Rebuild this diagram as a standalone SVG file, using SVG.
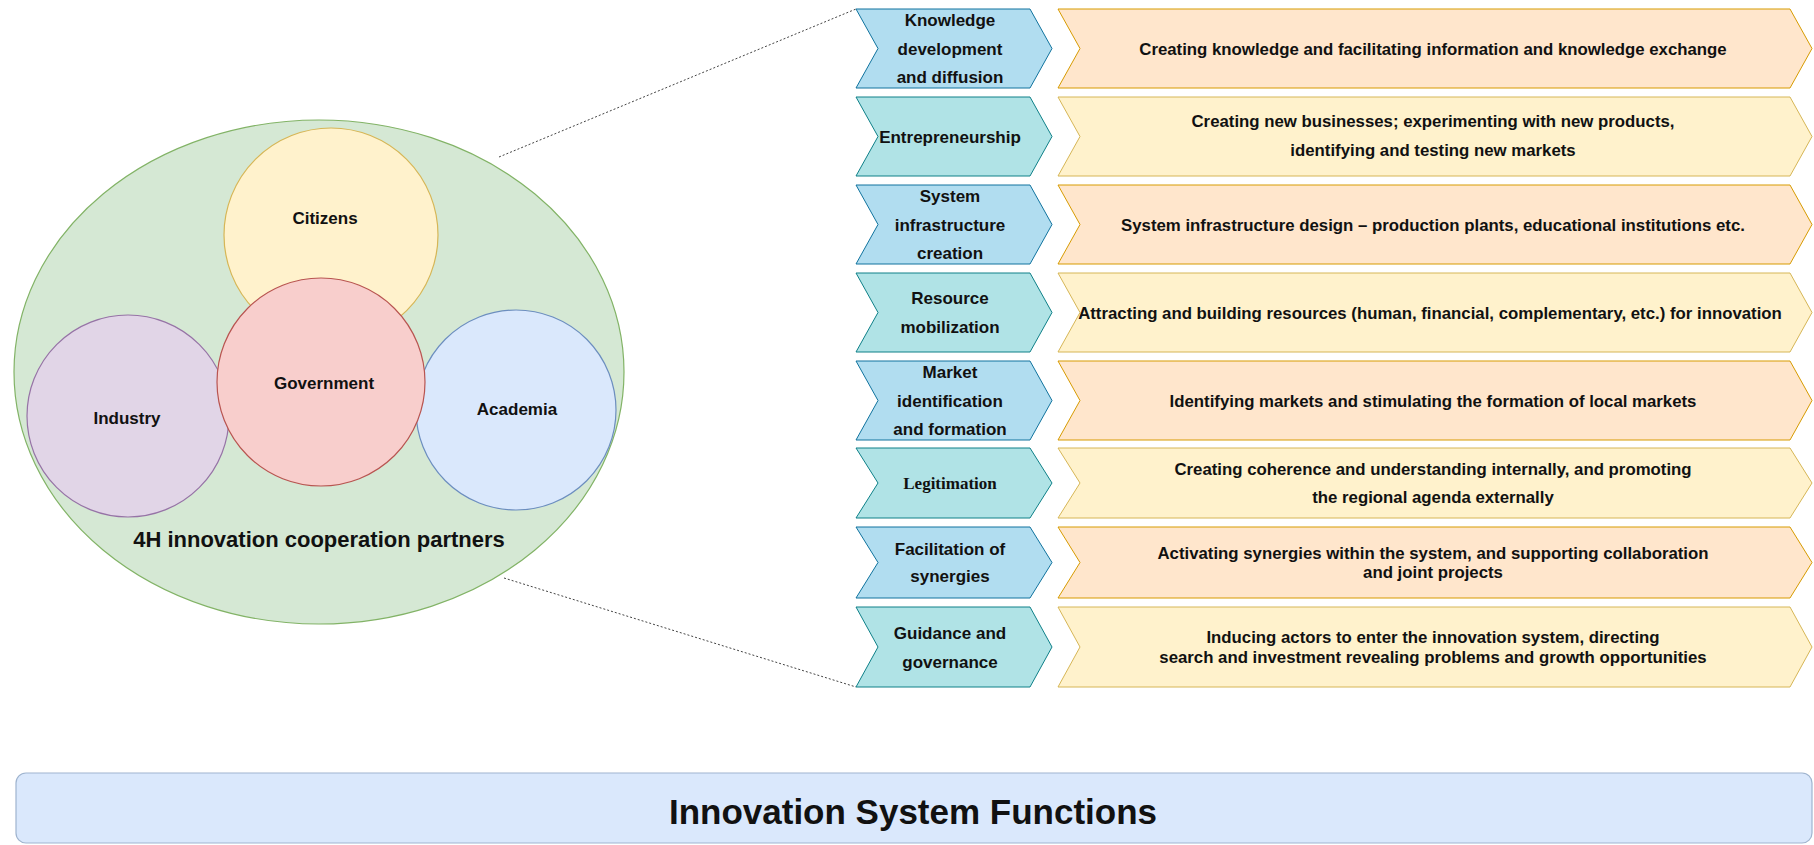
<svg xmlns="http://www.w3.org/2000/svg" width="1814" height="845" viewBox="0 0 1814 845">
<style>
text{font-family:"Liberation Sans",Arial,sans-serif;font-weight:bold;fill:#111;text-anchor:middle}
.lbl{font-size:17px}
.rt{font-size:16.8px}
.serif{font-family:"Liberation Serif","Times New Roman",serif}
.blue{fill:#b1ddf0;stroke:#10739e;stroke-width:1}
.teal{fill:#b0e3e6;stroke:#0e8088;stroke-width:1}
.orange{fill:#ffe6cc;stroke:#d79b00;stroke-width:1}
.yellow{fill:#fff2cc;stroke:#d6b656;stroke-width:1}
.dot{fill:none;stroke:#444;stroke-width:1;stroke-dasharray:2 2}
</style>
<rect width="1814" height="845" fill="#ffffff"/>

<g id="partners">
<ellipse cx="319" cy="372" rx="305" ry="252" fill="#d5e8d4" stroke="#82b366" stroke-width="1.2"/>
<text x="319" y="547" style="font-size:22px">4H innovation cooperation partners</text>
</g>
<g id="citizens">
<circle cx="331" cy="235" r="107" fill="#fff2cc" stroke="#d6b656" stroke-width="1.2"/>
<text x="325" y="224" class="lbl">Citizens</text>
</g>
<g id="industry">
<circle cx="128" cy="416" r="101" fill="#e1d5e7" stroke="#9673a6" stroke-width="1.2"/>
<text x="127" y="424" class="lbl">Industry</text>
</g>
<g id="academia">
<circle cx="516" cy="410" r="100" fill="#dae8fc" stroke="#6c8ebf" stroke-width="1.2"/>
<text x="517" y="415" class="lbl">Academia</text>
</g>
<g id="government">
<circle cx="321" cy="382" r="104" fill="#f8cecc" stroke="#b85450" stroke-width="1.2"/>
<text x="324" y="389" class="lbl">Government</text>
</g>

<g id="connectors">
<line x1="499" y1="157" x2="856" y2="9" class="dot"/>
<line x1="504" y1="578" x2="856" y2="687" class="dot"/>
</g>

<g id="f1">
<polygon class="blue" points="856,9 1030,9 1052,48.5 1030,88 856,88 878,48.5"/>
<text x="950" y="26" class="lbl">Knowledge</text>
<text x="950" y="54.5" class="lbl">development</text>
<text x="950" y="83" class="lbl">and diffusion</text>
<polygon class="orange" points="1058,9 1790,9 1812,48.5 1790,88 1058,88 1080,48.5"/>
<text x="1433" y="54.5" class="rt">Creating knowledge and facilitating information and knowledge exchange</text>
</g>
<g id="f2">
<polygon class="teal" points="856,97 1030,97 1052,136.5 1030,176 856,176 878,136.5"/>
<text x="950" y="142.5" class="lbl">Entrepreneurship</text>
<polygon class="yellow" points="1058,97 1790,97 1812,136.5 1790,176 1058,176 1080,136.5"/>
<text x="1433" y="127" class="rt">Creating new businesses; experimenting with new products,</text>
<text x="1433" y="156" class="rt">identifying and testing new markets</text>
</g>
<g id="f3">
<polygon class="blue" points="856,185 1030,185 1052,224.5 1030,264 856,264 878,224.5"/>
<text x="950" y="202" class="lbl">System</text>
<text x="950" y="230.5" class="lbl">infrastructure</text>
<text x="950" y="259" class="lbl">creation</text>
<polygon class="orange" points="1058,185 1790,185 1812,224.5 1790,264 1058,264 1080,224.5"/>
<text x="1433" y="230.5" class="rt">System infrastructure design – production plants, educational institutions etc.</text>
</g>
<g id="f4">
<polygon class="teal" points="856,273 1030,273 1052,312.5 1030,352 856,352 878,312.5"/>
<text x="950" y="304" class="lbl">Resource</text>
<text x="950" y="333" class="lbl">mobilization</text>
<polygon class="yellow" points="1058,273 1790,273 1812,312.5 1790,352 1058,352 1080,312.5"/>
<text x="1430" y="318.5" class="rt">Attracting and building resources (human, financial, complementary, etc.) for innovation</text>
</g>
<g id="f5">
<polygon class="blue" points="856,361 1030,361 1052,400.5 1030,440 856,440 878,400.5"/>
<text x="950" y="378" class="lbl">Market</text>
<text x="950" y="406.5" class="lbl">identification</text>
<text x="950" y="435" class="lbl">and formation</text>
<polygon class="orange" points="1058,361 1790,361 1812,400.5 1790,440 1058,440 1080,400.5"/>
<text x="1433" y="406.5" class="rt">Identifying markets and stimulating the formation of local markets</text>
</g>
<g id="f6">
<polygon class="teal" points="856,448 1030,448 1052,483 1030,518 856,518 878,483"/>
<text x="950" y="489" class="lbl serif">Legitimation</text>
<polygon class="yellow" points="1058,448 1790,448 1812,483 1790,518 1058,518 1080,483"/>
<text x="1433" y="475" class="rt">Creating coherence and understanding internally, and promoting</text>
<text x="1433" y="503" class="rt">the regional agenda externally</text>
</g>
<g id="f7">
<polygon class="blue" points="856,527 1030,527 1052,562.5 1030,598 856,598 878,562.5"/>
<text x="950" y="554.5" class="lbl">Facilitation of</text>
<text x="950" y="581.5" class="lbl">synergies</text>
<polygon class="orange" points="1058,527 1790,527 1812,562.5 1790,598 1058,598 1080,562.5"/>
<text x="1433" y="558.5" class="rt">Activating synergies within the system, and supporting collaboration</text>
<text x="1433" y="577.5" class="rt">and joint projects</text>
</g>
<g id="f8">
<polygon class="teal" points="856,607 1030,607 1052,647 1030,687 856,687 878,647"/>
<text x="950" y="638.5" class="lbl">Guidance and</text>
<text x="950" y="667.5" class="lbl">governance</text>
<polygon class="yellow" points="1058,607 1790,607 1812,647 1790,687 1058,687 1080,647"/>
<text x="1433" y="643" class="rt">Inducing actors to enter the innovation system, directing</text>
<text x="1433" y="663" class="rt">search and investment revealing problems and growth opportunities</text>
</g>

<g id="title">
<rect x="16" y="773" width="1796" height="70" rx="10" fill="#dae8fc" stroke="#9fb4cf" stroke-width="1.2"/>
<text x="913" y="824" style="font-size:35px">Innovation System Functions</text>
</g>
</svg>
